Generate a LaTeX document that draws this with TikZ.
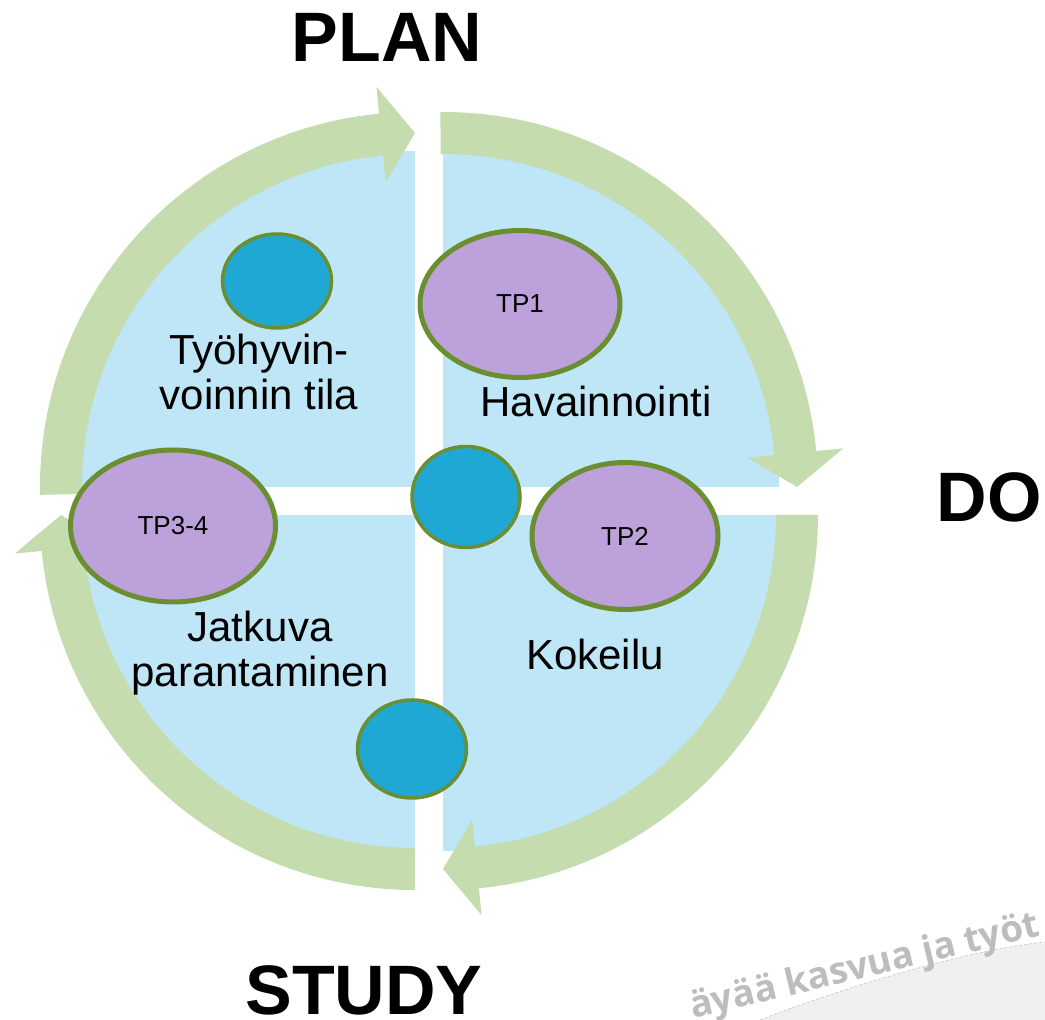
\documentclass[tikz,border=0pt]{standalone}
\usepackage{fontspec}
\setmainfont{Liberation Sans}
\newfontfamily\markfont{Open Sans}
\usetikzlibrary{calc,shapes.geometric}
\definecolor{quadblue}{HTML}{BEE6F6}
\definecolor{cyclegreen}{HTML}{C5DCAF}
\definecolor{tppurple}{HTML}{BDA1DA}
\definecolor{rimgreen}{HTML}{6B8E30}
\definecolor{dotblue}{HTML}{1FA8D3}
\definecolor{markgray}{HTML}{BDBDBD}
\definecolor{sheetgray}{HTML}{F0F0F0}

\begin{document}
\begin{tikzpicture}[
    x=1pt, y=1pt,
    tp/.style={ellipse, draw=rimgreen, line width=5pt, fill=tppurple, inner sep=0pt, font=\fontsize{26}{28}\selectfont},
    dot/.style={ellipse, draw=rimgreen, line width=3.5pt, fill=dotblue, inner sep=0pt},
    phase/.style={font=\fontsize{42}{45}\selectfont, align=center, inner sep=0pt},
    stage/.style={font=\bfseries\fontsize{70}{70}\selectfont, inner sep=0pt},
    wmark/.style={font=\markfont\bfseries\fontsize{37}{37}\selectfont, text=markgray, inner sep=0pt}
]
    \useasboundingbox (0,0) rectangle (1045,1020);

    % Sheet and watermark in the corner
    \fill[sheetgray] (760,0) .. controls (810,20) and (950,68) .. (1045,78) -- (1045,0) -- cycle;
    \draw[gray!45, densely dashed, line width=0.6pt] (760,0) .. controls (810,20) and (950,68) .. (1045,78);
    \node[wmark, rotate=13.5, anchor=base west] (watermark) at (693,1) {äyää kasvua ja työt};

    % Corners of the quadrants
    \coordinate (TL) at (415,533);
    \coordinate (TR) at (443,533);
    \coordinate (BR) at (443,505);
    \coordinate (BL) at (415,505);

    % Quadrants
    \foreach \c/\a in {TL/180, TR/90, BR/0, BL/-90} {
        \fill[quadblue] (\c) -- ++({\a-90}:336) arc[start angle=\a-90, end angle=\a, radius=336] -- cycle;
    }

    % Cycle arrows
    \foreach \c/\a/\s in {TL/180/1.2, TR/90/0.4, BR/0/0, BL/-90/0} {
        \fill[cyclegreen] ($(\c)+({\a+\s}:333)$) arc[start angle=\a+\s, end angle=\a-84.5, radius=333]
            -- ($(\c)+({\a-84.5}:306)$) -- ($(\c)+({\a-90}:354)$) -- ($(\c)+({\a-84.5}:402)$)
            -- ($(\c)+({\a-84.5}:375)$) arc[start angle=\a-84.5, end angle=\a+\s, radius=375] -- cycle;
    }

    % Ellipses
    \node[tp, minimum width=200pt, minimum height=147pt] (tp1) at (520,716) {TP1};
    \node[tp, minimum width=186pt, minimum height=147pt] (tp2) at (625,484) {TP2};
    \node[tp, minimum width=205pt, minimum height=152pt] (tp34) at (173,494) {TP3-4};

    % Dots
    \node[dot, minimum width=109pt, minimum height=94pt] (dotplan) at (277,739) {};
    \node[dot, minimum width=108pt, minimum height=101pt] (dotmid) at (466,523) {};
    \node[dot, minimum width=109pt, minimum height=98pt] (dotstudy) at (412,271) {};

    % Quadrant texts
    \node[phase, anchor=base] (wellbeing) at (259,610) {Työhyvin-\\voinnin tila};
    \node[phase, anchor=base] (observe) at (596,603) {Havainnointi};
    \node[phase, anchor=base] (improve) at (260,333) {Jatkuva\\parantaminen};
    \node[phase, anchor=base] (trial) at (595,350) {Kokeilu};

    % Stages
    \node[stage, anchor=base] (plan) at (387,958) {PLAN};
    \node[stage, anchor=base] (do) at (989,498) {DO};
    \node[stage, anchor=base] (study) at (364,5) {STUDY};

\end{tikzpicture}
\end{document}
